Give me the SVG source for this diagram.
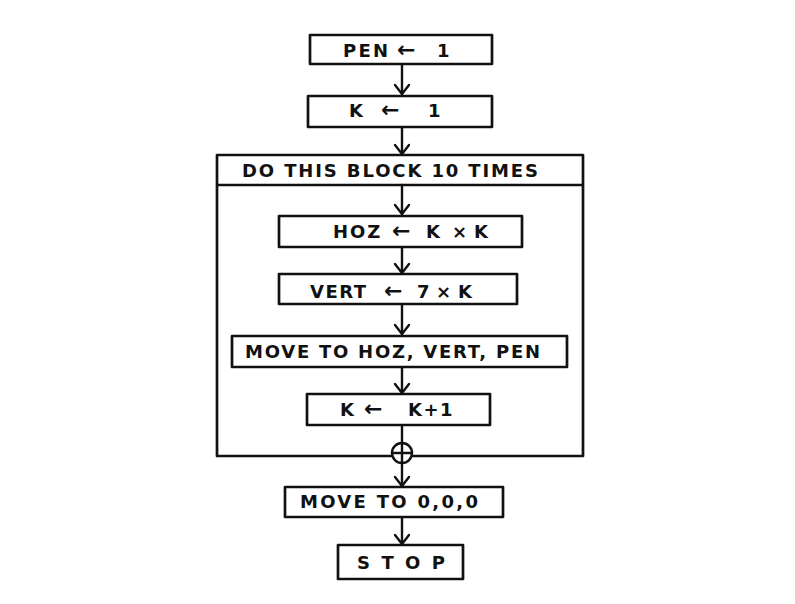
<svg xmlns="http://www.w3.org/2000/svg" width="795" height="604" viewBox="0 0 795 604">
<defs>
<style>
.box{fill:#fff;stroke:#111;stroke-width:2.7;stroke-linejoin:round}
.ln{fill:none;stroke:#111;stroke-width:2.4;stroke-linecap:round}
.t{font-family:"DejaVu Sans","Liberation Sans",sans-serif;font-weight:bold;font-size:18px;fill:#111}
.ar{font-size:22px}
</style>
<marker id="ah" markerUnits="userSpaceOnUse" viewBox="-12 -10 14 20" markerWidth="14" markerHeight="20" refX="0" refY="0" orient="auto">
<path d="M-9,-7 L0,0 L-9,7" fill="none" stroke="#111" stroke-width="2.4" stroke-linecap="round" stroke-linejoin="round"/>
</marker>
</defs>
<rect width="795" height="604" fill="#fff"/>
<g id="loop">
<rect class="box" x="217" y="155" width="366" height="301"/>
<line class="ln" x1="217" y1="185" x2="583" y2="185"/>
<text class="t" x="242" y="177" textLength="296" lengthAdjust="spacing">DO THIS BLOCK 10 TIMES</text>
</g>
<g id="connectors">
<line class="ln" x1="402" y1="64" x2="402" y2="94" marker-end="url(#ah)"/>
<line class="ln" x1="402" y1="127" x2="402" y2="154" marker-end="url(#ah)"/>
<line class="ln" x1="402" y1="185" x2="402" y2="214" marker-end="url(#ah)"/>
<line class="ln" x1="402" y1="247" x2="402" y2="273" marker-end="url(#ah)"/>
<line class="ln" x1="402" y1="304" x2="402" y2="334" marker-end="url(#ah)"/>
<line class="ln" x1="402" y1="367" x2="402" y2="393" marker-end="url(#ah)"/>
<line class="ln" x1="402" y1="425" x2="402" y2="443"/>
<line class="ln" x1="402" y1="463" x2="402" y2="486" marker-end="url(#ah)"/>
<line class="ln" x1="402" y1="517" x2="402" y2="544" marker-end="url(#ah)"/>
</g>
<g id="junction">
<circle cx="402" cy="453" r="10" fill="#fff" stroke="#111" stroke-width="2.4"/>
<line class="ln" x1="392" y1="453" x2="412" y2="453"/>
<line class="ln" x1="402" y1="443" x2="402" y2="463"/>
</g>
<g id="pen">
<rect class="box" x="310" y="35" width="182" height="29"/>
<text class="t" y="57"><tspan x="343" textLength="45" lengthAdjust="spacing">PEN</tspan> <tspan class="ar" x="397">←</tspan> <tspan x="437">1</tspan></text>
</g>
<g id="k1">
<rect class="box" x="308" y="96" width="184" height="31"/>
<text class="t" y="117"><tspan x="349">K</tspan> <tspan class="ar" x="381">←</tspan> <tspan x="428">1</tspan></text>
</g>
<g id="hoz">
<rect class="box" x="279" y="216" width="243" height="31"/>
<text class="t" y="238"><tspan x="333" letter-spacing="2">HOZ</tspan> <tspan class="ar" x="392">←</tspan> <tspan x="426">K</tspan> <tspan x="452">×</tspan> <tspan x="474">K</tspan></text>
</g>
<g id="vert">
<rect class="box" x="279" y="274" width="238" height="30"/>
<text class="t" y="298"><tspan x="310" letter-spacing="1.5">VERT</tspan> <tspan class="ar" x="384">←</tspan> <tspan x="417">7</tspan> <tspan x="436">×</tspan> <tspan x="458">K</tspan></text>
</g>
<g id="move">
<rect class="box" x="232" y="336" width="335" height="31"/>
<text class="t" x="245" y="358" textLength="295" lengthAdjust="spacing">MOVE TO HOZ, VERT, PEN</text>
</g>
<g id="kinc">
<rect class="box" x="307" y="394" width="183" height="31"/>
<text class="t" y="416"><tspan x="340">K</tspan> <tspan class="ar" x="364">←</tspan> <tspan x="408" letter-spacing="1.5">K+1</tspan></text>
</g>
<g id="move0">
<rect class="box" x="285" y="487" width="218" height="30"/>
<text class="t" x="300" y="508" textLength="178" lengthAdjust="spacing">MOVE TO 0,0,0</text>
</g>
<g id="stop">
<rect class="box" x="338" y="545" width="125" height="34"/>
<text class="t" x="357" y="569" textLength="88" lengthAdjust="spacing">STOP</text>
</g>
</svg>
